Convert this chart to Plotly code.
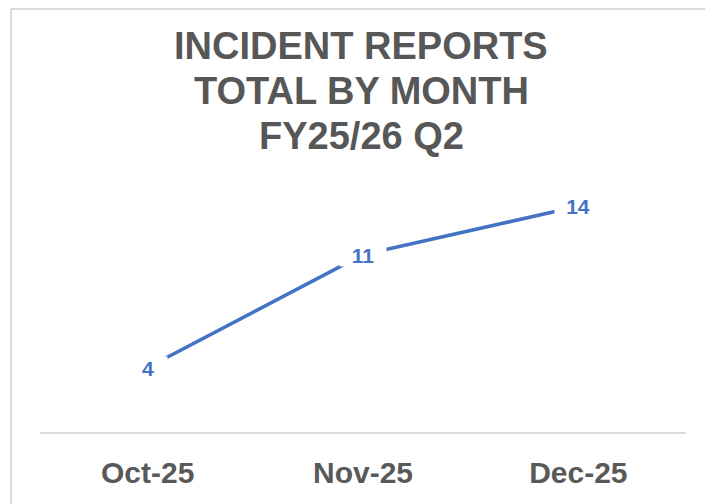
import plotly.graph_objects as go

# ---- data ----
months = ["Oct-25", "Nov-25", "Dec-25"]
incidents = [4, 11, 14]
title_lines = ["INCIDENT REPORTS", "TOTAL BY MONTH", "FY25/26 Q2"]

# page body adds an 8px offset; compensate so screen positions match
OFF = 8
W, H = 713 - OFF, 504 - OFF
L, R, T, B = 40 - OFF, 27, 174 - OFF, 72
plot_w = W - L - R
plot_h = H - T - B

def px_x(p):  # screen pixel -> paper x
    return (p - OFF - L) / plot_w

def px_y(p):  # screen pixel -> paper y
    return (H + OFF - B - p) / plot_h

LINE_BLUE = "#4472C4"
GREY_TXT = "#595959"
GREY_LINE = "#D9D9D9"

fig = go.Figure()
fig.add_trace(go.Scatter(
    x=months, y=incidents, mode="lines",
    line=dict(color=LINE_BLUE, width=3.6),
    hoverinfo="skip", showlegend=False,
))

annotations = []
# data labels with white background (cover the line as in Excel)
for m, v in zip(months, incidents):
    s = str(v)
    annotations.append(dict(
        x=m, y=v, xref="x", yref="y", text="<b>%s</b>" % s,
        showarrow=False, bgcolor="white", borderpad=0,
        width=46 if len(s) > 1 else 38, height=22,
        font=dict(family="Liberation Sans, Arial", size=21, color=LINE_BLUE),
        xanchor="center", yanchor="middle",
    ))

# title lines
title_centers = [46, 91, 136]
for line, cy in zip(title_lines, title_centers):
    annotations.append(dict(
        x=px_x(361), y=px_y(cy), xref="paper", yref="paper",
        text="<b>%s</b>" % line, showarrow=False,
        font=dict(family="Liberation Sans, Arial", size=38, color="#575757"),
        xanchor="center", yanchor="middle",
    ))

shapes = [
    # chart border (top and left visible)
    dict(type="line", xref="paper", yref="paper",
         x0=px_x(11), x1=px_x(730), y0=px_y(9), y1=px_y(9),
         line=dict(color=GREY_LINE, width=2)),
    dict(type="line", xref="paper", yref="paper",
         x0=px_x(11), x1=px_x(11), y0=px_y(9), y1=px_y(520),
         line=dict(color=GREY_LINE, width=2)),
]

fig.update_layout(
    width=W, height=H,
    margin=dict(l=L, r=R, t=T, b=B, pad=0),
    paper_bgcolor="white", plot_bgcolor="white",
    showlegend=False,
    annotations=annotations,
    shapes=shapes,
    xaxis=dict(
        type="category", range=[-0.5, 2.5],
        showgrid=False, zeroline=False,
        showline=True, linecolor=GREY_LINE, linewidth=2,
        ticks="", ticklabelstandoff=13,
        tickfont=dict(family="Liberation Sans, Arial", size=30, color=GREY_TXT),
        tickvals=months, ticktext=["<b>%s</b>" % m for m in months],
        fixedrange=True,
    ),
    yaxis=dict(
        range=[0, 16], visible=False, showgrid=False, zeroline=False,
        fixedrange=True,
    ),
)

fig.write_html("out.html")
